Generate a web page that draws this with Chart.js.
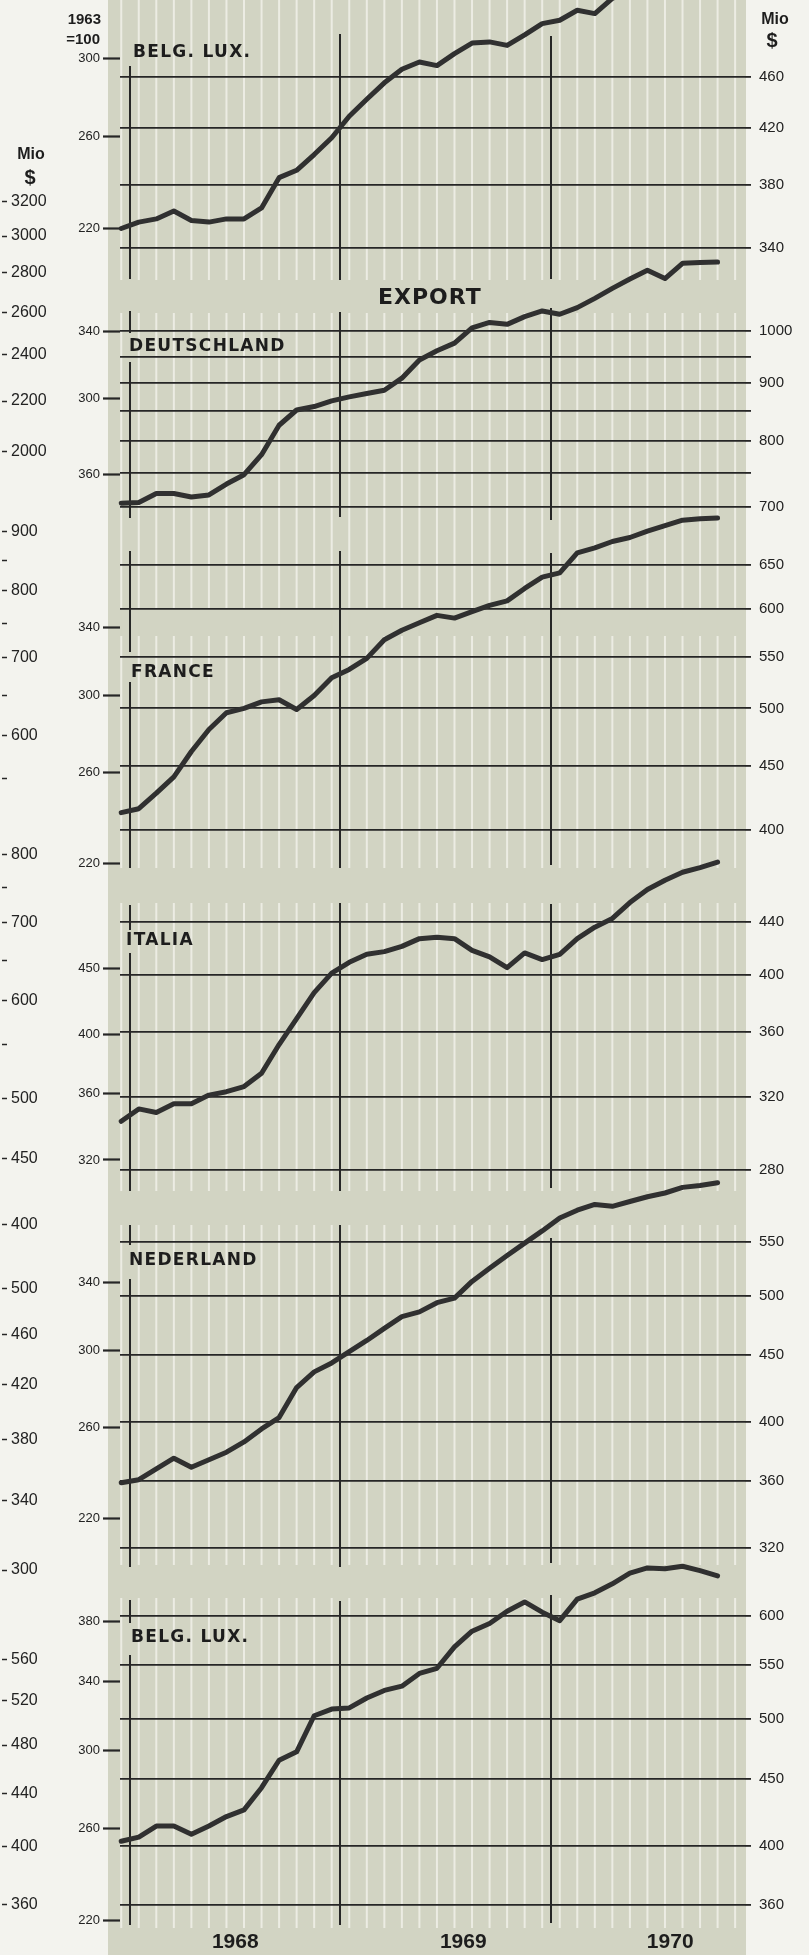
<!DOCTYPE html>
<html>
<head>
<meta charset="utf-8">
<script src="https://cdn.jsdelivr.net/npm/chart.js@4.4.1/dist/chart.umd.min.js"></script>
<style>
  html, body { margin: 0; padding: 0; background: #f3f3ee; }
  #page { position: relative; width: 809px; height: 1955px; overflow: hidden; }
  #panel { position: absolute; left: 108px; top: 0; width: 638px; height: 1955px; background: #d2d4c3; }
  canvas { position: absolute; left: 0; top: 0; }
  .lbl { position: absolute; z-index: 5; font-family: 'DejaVu Sans', sans-serif; font-weight: bold;
         font-size: 17px; line-height: 1; letter-spacing: 1.3px; color: #1d1d1d; white-space: nowrap; }
  .num { position: absolute; z-index: 5; font-family: 'Liberation Sans', Arial, sans-serif; font-weight: bold;
         line-height: 1; color: #1d1d1d; white-space: nowrap; }
</style>
</head>
<body>
<div id="page">
  <div id="panel"></div>

  <div class="num" style="right:708px; top:11px; font-size:15px;">1963</div>
  <div class="num" style="right:709px; top:31px; font-size:15px;">=100</div>
  <div class="num" style="left:745px; width:60px; text-align:center; top:11px; font-size:16px;">Mio</div>
  <div class="num" style="left:742px; width:60px; text-align:center; top:30px; font-size:20px;">$</div>
  <div class="num" style="left:1px; width:60px; text-align:center; top:146px; font-size:16px;">Mio</div>
  <div class="num" style="left:0px; width:60px; text-align:center; top:167px; font-size:20px;">$</div>

  <div class="lbl" style="left:378px; top:286px; font-size:22px; letter-spacing:1px;">EXPORT</div>
  <div id="labels"></div>
</div>

<script>
// months as plotted (mid-month), Dec 1967 .. Oct 1970
const months = ['Dec 67',
  'Jan 68', 'Feb 68', 'Mar 68', 'Apr 68', 'May 68', 'Jun 68', 'Jul 68', 'Aug 68', 'Sep 68', 'Oct 68', 'Nov 68', 'Dec 68',
  'Jan 69', 'Feb 69', 'Mar 69', 'Apr 69', 'May 69', 'Jun 69', 'Jul 69', 'Aug 69', 'Sep 69', 'Oct 69', 'Nov 69', 'Dec 69',
  'Jan 70', 'Feb 70', 'Mar 70', 'Apr 70', 'May 70', 'Jun 70', 'Jul 70', 'Aug 70', 'Sep 70', 'Oct 70'];

const years = ['1968', '1969', '1970'];

// series, Mio $
const belgLuxTop = [352, 356, 358, 363, 357, 356, 358, 358, 365, 385, 390, 401, 413, 429, 442, 455, 466, 472,
  469, 479, 488, 489, 486, 495, 505, 508, 517, 514, 528, 535, 542, 547, 552, 557, 560];
const deutschland = [705, 706, 719, 719, 714, 717, 733, 747, 778, 826, 852, 858, 868, 875, 881, 887, 909, 943,
  961, 976, 1007, 1018, 1014, 1030, 1042, 1035, 1049, 1069, 1091, 1112, 1132, 1113, 1148, 1150, 1151];
const france = [413, 416, 428, 441, 462, 481, 496, 500, 506, 508, 499, 512, 529, 537, 548, 567, 577, 585,
  593, 590, 597, 604, 609, 623, 636, 641, 665, 671, 679, 684, 692, 699, 706, 708, 709];
const italia = [306, 313, 311, 316, 316, 321, 323, 326, 334, 352, 369, 387, 401, 409, 415, 417, 421, 427,
  428, 427, 418, 413, 405, 416, 411, 415, 427, 436, 443, 456, 467, 475, 482, 486, 491];
const nederland = [359, 361, 368, 375, 369, 374, 379, 386, 395, 403, 425, 437, 444, 453, 462, 472, 482, 486,
  494, 498, 513, 525, 537, 549, 561, 574, 582, 588, 586, 591, 596, 600, 606, 608, 611];
const belgLuxExport = [403, 406, 414, 414, 408, 414, 421, 426, 443, 465, 472, 503, 509, 510, 519, 526, 530, 542,
  547, 568, 584, 592, 605, 615, 604, 595, 618, 625, 635, 647, 653, 652, 655, 650, 644];

// tick values: right = Mio $, left = index 1963=100
const belgLuxTopRight = [460, 420, 380, 340];
const belgLuxTopLeft = [300, 260, 220];
const deutschlandRight = [1000, 950, 900, 850, 800, 750, 700];
const deutschlandRightLabels = ['1000', '', '900', '', '800', '', '700'];
const deutschlandLeft = [340, 300, 260];
const deutschlandLeftLabels = ['340', '300', '360'];
const franceRight = [650, 600, 550, 500, 450, 400];
const franceLeft = [340, 300, 260, 220];
const italiaRight = [440, 400, 360, 320, 280];
const italiaLeft = [450, 400, 360, 320];
const nederlandRight = [550, 500, 450, 400, 360, 320];
const nederlandLeft = [340, 300, 260, 220];
const belgLuxExportRight = [600, 550, 500, 450, 400, 360];
const belgLuxExportLeft = [380, 340, 300, 260, 220];

// scale of the neighbouring chart, cut off at the left edge
const farA = [3200, 3000, 2800, 2600, 2400, 2200, 2000];
const farB = [900, 850, 800, 750, 700, 650, 600, 550];
const farBLabels = ['900', '', '800', '', '700', '', '600', ''];
const farC = [800, 750, 700, 650, 600, 550];
const farCLabels = ['800', '', '700', '', '600', ''];
const farC2 = [500, 450, 400];
const farD = [500, 460, 420, 380, 340, 300];
const farE = [560, 520, 480, 440, 400, 360];

// layout
const W = 809, H = 1955;
const PLOT_LEFT = 120, PLOT_RIGHT = 745, JAN68_X = 130, MONTH_PX = 17.54;
const LEFT_AXIS_W = 60, RIGHT_AXIS_W = 50;
const INK = '#262626';
const yearStarts = [0, 12, 24];
const yearLabelPos = [6, 19, 30.8];
const stripeBands = [[0, 280], [313, 609], [636, 868], [903, 1191], [1225, 1565], [1598, 1928]];

const panels = [
  { name: 'BELG. LUX.', data: belgLuxTop, right: belgLuxTopRight, left: belgLuxTopLeft,
    area: [34, 280], rightPx: [76.6, 248.2], leftPx: [58.3, 228.3], label: [133, 43],
    years: [[[66, 279]], [[34, 280]], [[36, 279]]] },
  { name: 'DEUTSCHLAND', data: deutschland, right: deutschlandRight, rightLabels: deutschlandRightLabels,
    left: deutschlandLeft, leftLabels: deutschlandLeftLabels,
    area: [307, 520], rightPx: [331.2, 506.7], leftPx: [331.7, 474.3], label: [129, 337],
    years: [[[311, 333], [362, 518]], [[312, 517]], [[308, 520]]] },
  { name: 'FRANCE', data: france, right: franceRight, left: franceLeft,
    area: [551, 868], rightPx: [565.3, 830.1], leftPx: [627.3, 863.3], label: [131, 663],
    years: [[[551, 652], [682, 868]], [[551, 868]], [[553, 865]]] },
  { name: 'ITALIA', data: italia, right: italiaRight, left: italiaLeft,
    area: [903, 1191], rightPx: [922.2, 1170], leftPx: [968.3, 1160], label: [126, 931],
    years: [[[905, 930], [953, 1191]], [[903, 1191]], [[904, 1188]]] },
  { name: 'NEDERLAND', data: nederland, right: nederlandRight, left: nederlandLeft,
    area: [1225, 1567], rightPx: [1242.1, 1547.7], leftPx: [1282.7, 1518.3], label: [129, 1251],
    years: [[[1225, 1245], [1279, 1567]], [[1225, 1567]], [[1238, 1563]]] },
  { name: 'BELG. LUX.', data: belgLuxExport, right: belgLuxExportRight, left: belgLuxExportLeft,
    area: [1595, 1925], rightPx: [1615.9, 1905.2], leftPx: [1621, 1920], label: [131, 1628],
    years: [[[1600, 1623], [1655, 1925]], [[1601, 1925]], [[1595, 1923]]] }
];

const farAxes = [
  { ticks: farA, px: [201.7, 451.7] },
  { ticks: farB, labels: farBLabels, px: [531.7, 779] },
  { ticks: farC, labels: farCLabels, px: [855, 1045] },
  { ticks: farC2, px: [1098.3, 1225] },
  { ticks: farD, px: [1288.3, 1570] },
  { ticks: farE, px: [1659.3, 1905] }
];

// log axis range so that the first/last tick land on the given pixel rows
function logRange(ticks, px, top, bottom) {
  const v1 = Math.log10(ticks[0]), v2 = Math.log10(ticks[ticks.length - 1]);
  const k = (px[1] - px[0]) / (v1 - v2);
  return { min: Math.pow(10, v2 - (bottom - px[1]) / k), max: Math.pow(10, v1 + (px[0] - top) / k) };
}

const stripes = {
  id: 'stripes',
  beforeDraw(chart) {
    const ctx = chart.ctx, xs = chart.scales.x;
    ctx.save();
    ctx.fillStyle = '#ecece3';
    for (let m = -0.5; m <= 34.5; m++) {
      const x = xs.getPixelForValue(m);
      stripeBands.forEach(([a, b]) => ctx.fillRect(x - 1, a, 2, b - a));
    }
    ctx.restore();
  }
};

const yearLines = {
  id: 'yearLines',
  beforeDatasetsDraw(chart, args, opts) {
    const ctx = chart.ctx, xs = chart.scales.x;
    ctx.save();
    ctx.strokeStyle = INK;
    ctx.lineWidth = 2;
    yearStarts.forEach((m, j) => {
      const x = Math.round(xs.getPixelForValue(m));
      opts.segs[j].forEach(([a, b]) => {
        ctx.beginPath();
        ctx.moveTo(x, a);
        ctx.lineTo(x, b);
        ctx.stroke();
      });
    });
    ctx.restore();
  }
};

function addCanvas(w, h) {
  const c = document.createElement('canvas');
  c.width = w; c.height = h;
  c.style.width = w + 'px'; c.style.height = h + 'px';
  document.getElementById('page').appendChild(c);
  return c;
}

panels.forEach((p, i) => {
  const isLast = i === panels.length - 1;
  const xAxisH = isLast ? 30 : 0;
  const rr = logRange(p.right, p.rightPx, p.area[0], p.area[1]);
  const lr = logRange(p.left, p.leftPx, p.area[0], p.area[1]);
  const rightLabels = p.rightLabels || p.right.map(String);
  const leftLabels = p.leftLabels || p.left.map(String);

  new Chart(addCanvas(W, H), {
    type: 'line',
    data: {
      datasets: [{
        data: p.data.map((v, j) => ({ x: j - 0.5, y: v })),
        yAxisID: 'yr',
        borderColor: '#303030',
        borderWidth: 5,
        borderJoinStyle: 'round',
        borderCapStyle: 'round',
        pointRadius: 0,
        tension: 0,
        clip: false
      }]
    },
    options: {
      responsive: false,
      animation: false,
      events: [],
      layout: {
        padding: {
          top: p.area[0],
          bottom: H - p.area[1] - xAxisH,
          left: PLOT_LEFT - LEFT_AXIS_W,
          right: W - PLOT_RIGHT - RIGHT_AXIS_W
        }
      },
      plugins: {
        legend: { display: false },
        tooltip: { enabled: false },
        yearLines: { segs: p.years }
      },
      scales: {
        x: {
          type: 'linear',
          display: isLast,
          min: (PLOT_LEFT - JAN68_X) / MONTH_PX,
          max: (PLOT_RIGHT - JAN68_X) / MONTH_PX,
          grid: { display: false, drawTicks: false },
          border: { display: false },
          afterBuildTicks: s => { s.ticks = yearLabelPos.map(v => ({ value: v })); },
          afterFit: s => { s.height = xAxisH; },
          ticks: {
            autoSkip: false, maxRotation: 0, padding: 5, color: '#1d1d1d',
            font: { family: "'Liberation Sans', Arial, sans-serif", size: 21, weight: 'bold' },
            callback: (v, k) => years[k]
          }
        },
        yl: {
          type: 'logarithmic',
          position: 'left',
          min: lr.min, max: lr.max, bounds: 'data',
          afterBuildTicks: s => { s.ticks = p.left.map(v => ({ value: v })); },
          afterFit: s => { s.width = LEFT_AXIS_W; },
          grid: { drawOnChartArea: false, drawTicks: true, tickLength: 17, tickWidth: 2.2, tickColor: INK },
          border: { display: false },
          ticks: {
            autoSkip: false, padding: 3, color: '#222',
            font: { family: "'Liberation Sans', Arial, sans-serif", size: 13 },
            callback: (v, k) => leftLabels[k]
          }
        },
        yr: {
          type: 'logarithmic',
          position: 'right',
          min: rr.min, max: rr.max, bounds: 'data',
          afterBuildTicks: s => { s.ticks = p.right.map(v => ({ value: v })); },
          afterFit: s => { s.width = RIGHT_AXIS_W; },
          grid: { color: INK, lineWidth: 1.8, drawTicks: true, tickLength: 6 },
          border: { display: false },
          ticks: {
            autoSkip: false, padding: 8, color: '#222',
            font: { family: "'Liberation Sans', Arial, sans-serif", size: 15 },
            callback: (v, k) => rightLabels[k]
          }
        }
      }
    },
    plugins: i === 0 ? [stripes, yearLines] : [yearLines]
  });
});

farAxes.forEach(g => {
  const r = logRange(g.ticks, g.px, 20, H - 20);
  const labels = g.labels || g.ticks.map(String);
  new Chart(addCanvas(70, H), {
    type: 'line',
    data: { datasets: [] },
    options: {
      responsive: false,
      animation: false,
      events: [],
      layout: { padding: { top: 20, bottom: 20, left: 0, right: 0 } },
      plugins: { legend: { display: false }, tooltip: { enabled: false } },
      scales: {
        x: { type: 'linear', display: false, min: 0, max: 1 },
        y: {
          type: 'logarithmic',
          position: 'right',
          min: r.min, max: r.max, bounds: 'data',
          afterBuildTicks: s => { s.ticks = g.ticks.map(v => ({ value: v })); },
          afterFit: s => { s.width = 68; },
          grid: { drawOnChartArea: false, drawTicks: true, tickLength: 5, tickWidth: 1.5, tickColor: INK },
          border: { display: false },
          ticks: {
            autoSkip: false, padding: 4, color: '#222',
            font: { family: "'Liberation Sans', Arial, sans-serif", size: 16 },
            callback: (v, k) => labels[k]
          }
        }
      }
    }
  });
});

// panel names
const holder = document.getElementById('labels');
panels.forEach(p => {
  const d = document.createElement('div');
  d.className = 'lbl';
  d.style.left = p.label[0] + 'px';
  d.style.top = p.label[1] + 'px';
  d.textContent = p.name;
  holder.appendChild(d);
});
</script>
</body>
</html>
